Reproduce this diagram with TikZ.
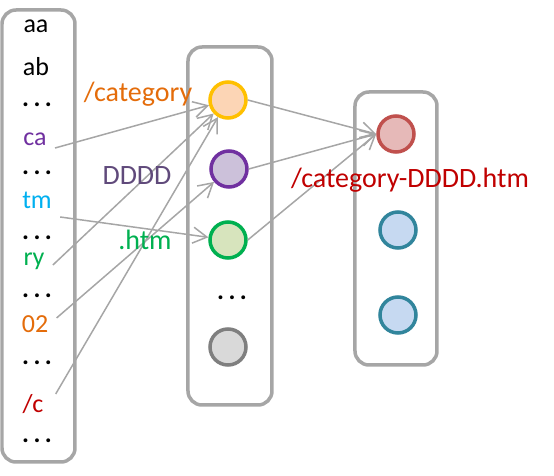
\documentclass[tikz,border=0pt]{standalone}
\usepackage{fontspec}
\setmainfont{Carlito}
\usepackage{xcolor}
\definecolor{FrameGrey}{HTML}{A6A6A6}
\definecolor{LineGrey}{HTML}{A6A6A6}
\definecolor{PathOrange}{HTML}{E46C0A}
\definecolor{PathPurple}{HTML}{7030A0}
\definecolor{PathViolet}{HTML}{604A7B}
\definecolor{PathCyan}{HTML}{00B0F0}
\definecolor{PathGreen}{HTML}{00B050}
\definecolor{PathRed}{HTML}{C00000}
\definecolor{PathGold}{HTML}{FFC000}
\definecolor{PeachFill}{HTML}{FCD5B5}
\definecolor{LilacFill}{HTML}{CCC1DA}
\definecolor{SageFill}{HTML}{D7E4BD}
\definecolor{GreyRing}{HTML}{7F7F7F}
\definecolor{GreyFill}{HTML}{D9D9D9}
\definecolor{RoseRing}{HTML}{C0504D}
\definecolor{RoseFill}{HTML}{E6B9B8}
\definecolor{TealRing}{HTML}{31859C}
\definecolor{SkyFill}{HTML}{C6D9F1}
\usepackage{tikz}
\usetikzlibrary{arrows.meta, positioning}
\newcommand{\gapdots}{.\hspace{2.2pt}.\hspace{2.2pt}.}
\tikzstyle{column} = [rectangle, draw=FrameGrey, fill=white, line width=1.75pt, rounded corners=7pt, inner sep=0pt, outer sep=0pt]
\tikzstyle{unit} = [circle, minimum size=18pt, inner sep=0pt, line width=1.75pt]
\tikzstyle{token} = [anchor=base, font=\fontsize{13}{15}\selectfont, inner sep=4pt, text height=9pt, text depth=3pt]
\tikzstyle{more} = [token, font=\fontsize{13}{15}\selectfont\bfseries]
\tikzstyle{tag} = [anchor=base, font=\fontsize{14}{16}\selectfont, inner sep=0pt]
\tikzstyle{arrow} = [-{Straight Barb[length=7pt,width=8pt]}, color=LineGrey, line width=0.75pt]

\begin{document}
\begin{tikzpicture}[x=0.5pt, y=-0.5pt]
        \useasboundingbox (0,0) rectangle (554,476);

        % Columns
        \node [column, minimum width=36.5pt, minimum height=226pt] (left) at (38.5,236) {};
        \node [column, minimum width=42pt, minimum height=179pt] (mid) at (230,226) {};
        \node [column, minimum width=41pt, minimum height=136.5pt] (right) at (396,228.5) {};

        % Character list
        \node [token] (aa) at (36,33) {aa};
        \node [token] (ab) at (36,76) {ab};
        \node [more] (d1) at (37,107) {\gapdots};
        \node [token, text=PathPurple] (ca) at (35,146) {ca};
        \node [more] (d2) at (37,175) {\gapdots};
        \node [token, text=PathCyan] (tm) at (37,209) {tm};
        \node [more] (d3) at (37,240) {\gapdots};
        \node [token, text=PathGreen] (ry) at (34,266) {ry};
        \node [more] (d4) at (37,298) {\gapdots};
        \node [token, text=PathOrange] (zt) at (35,333) {02};
        \node [more] (d5) at (37,365) {\gapdots};
        \node [token, text=PathRed] (sc) at (33,413) {/c};
        \node [more] (d6) at (37,443) {\gapdots};

        % Hidden units
        \node [unit, draw=PathGold, fill=PeachFill] (o1) at (228,100) {};
        \node [unit, draw=PathPurple, fill=LilacFill] (p1) at (229,169) {};
        \node [unit, draw=PathGreen, fill=SageFill] (g1) at (228,240) {};
        \node [more] (dm) at (232,300) {\gapdots};
        \node [unit, draw=GreyRing, fill=GreyFill] (k1) at (228,347) {};

        % Output units
        \node [unit, draw=RoseRing, fill=RoseFill] (r1) at (396,134) {};
        \node [unit, draw=TealRing, fill=SkyFill] (b1) at (398,230) {};
        \node [unit, draw=TealRing, fill=SkyFill] (b2) at (398,315) {};

        % Connect nodes
        \draw [arrow] ([yshift=-4pt]ca.east) -- (o1);
        \draw [arrow] ([yshift=-7pt]tm.east) -- (g1);
        \draw [arrow] ([yshift=-2.5pt]ry.east) -- (o1);
        \draw [arrow] ([yshift=4.5pt]zt.east) -- (p1);
        \draw [arrow] ([xshift=2pt,yshift=6.5pt]sc.east) -- (o1);
        \draw [arrow] (o1.east) -- (r1.west);
        \draw [arrow] (p1.east) -- (r1.west);
        \draw [arrow] (g1.east) -- (r1.west);

        % Path pieces
        \node [tag, text=PathOrange] (cat) at (138,102) {/category};
        \node [tag, text=PathViolet] (dddd) at (137,185) {DDDD};
        \node [tag, text=PathGreen] (htm) at (145,250) {.htm};
        \node [tag, text=PathRed] (full) at (410,188) {/category-DDDD.htm};
    \end{tikzpicture}
\end{document}
